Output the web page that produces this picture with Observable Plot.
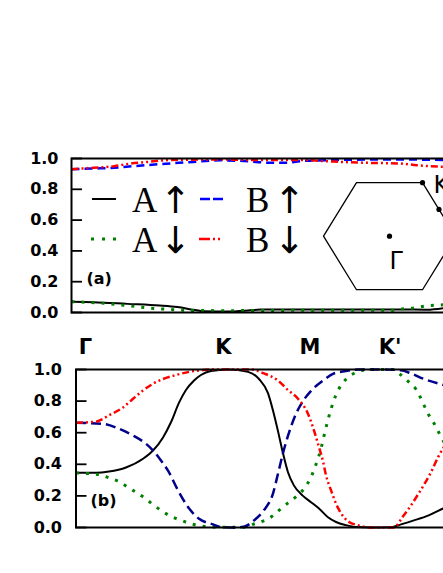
<!DOCTYPE html>
<html><head><meta charset="utf-8">
<script src="https://cdn.jsdelivr.net/npm/d3@7"></script>
<script src="https://cdn.jsdelivr.net/npm/@observablehq/plot@0.6"></script>
<style>
html,body{margin:0;padding:0;background:#fff;overflow:hidden}
#wrap{position:relative;width:443px;height:573px;overflow:hidden;background:#fff}
#wrap svg{position:absolute;overflow:visible;max-width:none !important}
</style></head><body><div id="wrap"></div>
<script>
// ---------- data ----------
const yTicks = [0, 0.2, 0.4, 0.6, 0.8, 1.0];
const kLabels = ["Γ", "K", "M", "K'"];
const kLabelPos = [0.065, 1.003, 1.592, 2.136];

// panel (a)
const aBlackK = [0,0.15,0.38,0.6,0.72,0.83,0.9,1.06,1.2,1.29,1.56,1.9,2.24,2.42,2.53];
const aBlackW = [0.07,0.067,0.056,0.045,0.035,0.018,0.008,0.006,0.013,0.02,0.02,0.02,0.02,0.018,0.028];
const aGreenK = [0,0.22,0.38,0.52,0.67,0.83,1.06,1.56,1.9,2.19,2.26,2.33,2.42,2.53];
const aGreenW = [0.07,0.06,0.045,0.03,0.02,0.013,0.012,0.014,0.014,0.014,0.024,0.03,0.043,0.05];
const aBlueK = [0,0.15,0.29,0.42,0.6,0.83,1.01,1.2,1.33,1.45,1.56,1.78,2.01,2.3,2.53];
const aBlueW = [0.93,0.935,0.94,0.95,0.963,0.978,0.988,0.982,0.973,0.972,0.983,0.99,0.993,0.993,0.99];
const aRedK = [0,0.15,0.29,0.40,0.52,0.63,0.74,1.01,1.29,1.56,1.78,2.01,2.24,2.35,2.53];
const aRedW = [0.93,0.94,0.95,0.967,0.978,0.988,0.992,0.993,0.99,0.99,0.98,0.972,0.967,0.956,0.946];

// panel (b)
const bBlackK = [0,0.136,0.224,0.340,0.456,0.524,0.592,0.646,0.701,0.748,0.803,0.850,0.918,1.034,1.170,1.245,1.306,1.340,1.374,1.408,1.442,1.483,1.544,1.599,1.653,1.714,1.769,1.837,1.905,2.007,2.143,2.211,2.299,2.395,2.497,2.551];
const bBlackW = [0.346,0.346,0.354,0.38,0.435,0.487,0.57,0.666,0.79,0.87,0.93,0.965,0.99,1.0,0.985,0.94,0.85,0.74,0.61,0.47,0.35,0.265,0.2,0.16,0.12,0.065,0.035,0.015,0.003,0.0,0.002,0.02,0.045,0.075,0.12,0.14];
const bBlueK = [0,0.184,0.292,0.388,0.476,0.531,0.578,0.626,0.694,0.762,0.837,0.932,0.986,1.068,1.143,1.211,1.279,1.340,1.374,1.408,1.449,1.497,1.544,1.599,1.680,1.755,1.837,1.918,2.075,2.211,2.279,2.367,2.469,2.551];
const bBlueW = [0.663,0.656,0.625,0.582,0.53,0.48,0.424,0.36,0.235,0.13,0.055,0.02,0.003,0.0,0.005,0.045,0.11,0.215,0.34,0.47,0.60,0.72,0.80,0.865,0.93,0.975,0.99,1.0,1.0,0.995,0.975,0.94,0.91,0.89];
const bRedK = [0,0.136,0.224,0.320,0.388,0.456,0.524,0.592,0.680,0.769,0.850,0.918,1.190,1.279,1.374,1.442,1.510,1.578,1.612,1.646,1.680,1.701,1.735,1.769,1.803,1.857,1.918,1.986,2.163,2.224,2.279,2.327,2.367,2.415,2.463,2.503,2.551];
const bRedW = [0.663,0.67,0.71,0.76,0.815,0.867,0.91,0.94,0.965,0.985,0.995,1.0,1.0,0.975,0.93,0.87,0.815,0.72,0.635,0.53,0.42,0.33,0.235,0.15,0.09,0.035,0.015,0.0,0.0,0.07,0.14,0.21,0.27,0.35,0.445,0.51,0.58];
const bGreenK = [0,0.156,0.224,0.293,0.361,0.422,0.476,0.531,0.592,0.646,0.701,0.782,0.850,0.952,1.156,1.204,1.272,1.340,1.395,1.449,1.497,1.551,1.599,1.633,1.667,1.687,1.714,1.735,1.769,1.803,1.850,1.918,1.993,2.156,2.211,2.265,2.313,2.367,2.401,2.435,2.469,2.497,2.551];
const bGreenW = [0.345,0.335,0.315,0.29,0.25,0.215,0.18,0.14,0.10,0.07,0.05,0.023,0.01,0.002,0.002,0.02,0.04,0.075,0.12,0.16,0.195,0.245,0.32,0.40,0.50,0.58,0.68,0.75,0.84,0.90,0.95,0.985,1.0,1.0,0.965,0.92,0.875,0.775,0.71,0.66,0.60,0.55,0.47];

const legendLetters = ["A", "B", "A", "B"];
const legendArrows = ["↑", "↑", "↓", "↓"];
const bzNames = ["Γ", "K", "M"];

// ---------- drawing ----------
const wrap = document.getElementById("wrap");
const plotW = 441;
const rows = (ks, ws) => ks.map((k, i) => ({k, w: ws[i]}));
const sty = {
  black: {stroke: "#000", strokeWidth: 2, dash: null, cap: "butt"},
  green: {stroke: "#008000", strokeWidth: 3, dash: "3,7", cap: "butt"},
  redDD: {stroke: "#ff0000", strokeWidth: 2.5, dash: "7,3,2,3,2,3", cap: "butt"}
};

function panel(cfg) {
  const marks = [
    ...cfg.lines.map(L => Plot.line(rows(L.k, L.w), {
      x: "k", y: "w", curve: "monotone-x", stroke: L.s.stroke,
      strokeWidth: L.s.strokeWidth, strokeDasharray: L.s.dash, strokeLinecap: L.s.cap
    })),
    Plot.frame({stroke: "#000", strokeWidth: 2}),
    Plot.tickY(yTicks, {y: d => d, stroke: "#000", strokeWidth: 1.8, insetRight: plotW - 11}),
    Plot.axisY(yTicks, {tickSize: 0, tickPadding: cfg.pad, tickFormat: d3.format(".1f"), label: null,
      fontSize: 16, fontWeight: "bold", fill: "#000"}),
    Plot.text([cfg.tag], {text: d => d, frameAnchor: "bottom-left", dx: cfg.tagDx, dy: cfg.tagDy,
      textAnchor: "start", lineAnchor: "middle", fontSize: 16, fontWeight: "bold", fill: "#000"}),
    ...(cfg.extra || [])
  ];
  const svg = Plot.plot({
    width: cfg.marginLeft + plotW + 10,
    height: cfg.marginTop + cfg.plotH + 10,
    marginLeft: cfg.marginLeft, marginRight: 10, marginTop: cfg.marginTop, marginBottom: 10,
    x: {domain: [0, 3], axis: null},
    y: {domain: [0, 1], axis: null},
    style: {fontFamily: "DejaVu Sans", background: "transparent", color: "#000", maxWidth: "none"},
    marks
  });
  svg.style.left = "0px";
  svg.style.top = cfg.top + "px";
  svg.style.maxWidth = "none";
  wrap.appendChild(svg);
}

panel({
  top: 150, marginLeft: 71, marginTop: 8, plotH: 154, pad: 13,
  tag: "(a)", tagDx: 15, tagDy: -34,
  lines: [
    {k: aBlackK, w: aBlackW, s: sty.black},
    {k: aGreenK, w: aGreenW, s: sty.green},
    {k: aBlueK, w: aBlueW, s: {stroke: "#0000ff", strokeWidth: 2.5, dash: "8,5", cap: "butt"}},
    {k: aRedK, w: aRedW, s: sty.redDD}
  ]
});

panel({
  top: 329, marginLeft: 75.5, marginTop: 40, plotH: 158, pad: 14,
  tag: "(b)", tagDx: 14.5, tagDy: -26.5,
  lines: [
    {k: bBlackK, w: bBlackW, s: sty.black},
    {k: bGreenK, w: bGreenW, s: sty.green},
    {k: bBlueK, w: bBlueW, s: {stroke: "#00008b", strokeWidth: 2.5, dash: "10,5", cap: "butt"}},
    {k: bRedK, w: bRedW, s: sty.redDD}
  ],
  extra: [
    Plot.text(kLabels, {x: (d, i) => kLabelPos[i], text: d => d, frameAnchor: "top", dy: -16,
      lineAnchor: "bottom", fontSize: 21, fontWeight: "bold", fill: "#000"})
  ]
});

// Brillouin-zone inset (own scales, geometry from angles)
const hexAngles = [0, 60, 120, 180, 240, 300, 360];
const hex = hexAngles.map(a => ({kx: Math.cos(a * Math.PI / 180), ky: Math.sin(a * Math.PI / 180)}));
const s60 = Math.sin(Math.PI / 3);
const bzPts = [
  {name: bzNames[0], kx: 0, ky: 0},
  {name: bzNames[1], kx: 0.5, ky: s60},
  {name: bzNames[2], kx: 0.75, ky: s60 / 2}
];
const inset = Plot.plot({
  width: 200, height: 160,
  marginLeft: 23, marginRight: 45, marginTop: 23.9, marginBottom: 12.5,
  x: {domain: [-1, 1], axis: null},
  y: {domain: [-1, 1], axis: null},
  style: {fontFamily: "DejaVu Sans", background: "transparent", maxWidth: "none"},
  marks: [
    Plot.line(hex, {x: "kx", y: "ky", stroke: "#000", strokeWidth: 1.3}),
    Plot.dot(bzPts, {x: "kx", y: "ky", r: 2.6, fill: "#000"}),
    Plot.text(bzPts.slice(0, 1), {x: "kx", y: "ky", text: "name", dx: 0, dy: 33, textAnchor: "start",
      lineAnchor: "bottom", fontSize: 24, fill: "#000"}),
    Plot.text(bzPts.slice(1, 2), {x: "kx", y: "ky", text: "name", dx: 11, dy: 10, textAnchor: "start",
      lineAnchor: "bottom", fontSize: 24, fill: "#000"})
  ]
});
inset.style.left = "300px";
inset.style.top = "150px";
inset.style.maxWidth = "none";
wrap.appendChild(inset);

// legend overlay
const leg = d3.select(wrap).append("svg").attr("width", 443).attr("height", 573)
  .style("left", "0px").style("top", "0px");
const legItems = [
  {stroke: "#000", w: 2, dash: null, x1: 92, x2: 116, tx: 132, y: 199},
  {stroke: "#0000ff", w: 2.5, dash: "10,3", x1: 200, x2: 223, tx: 246, y: 199},
  {stroke: "#008000", w: 3, dash: "3,8", x1: 91, x2: 117, tx: 132, y: 239},
  {stroke: "#ff0000", w: 2.5, dash: "11,3,2,3,2,20", x1: 199, x2: 223, tx: 246, y: 239}
];
legItems.forEach((d, i) => {
  leg.append("line").attr("x1", d.x1).attr("x2", d.x2).attr("y1", d.y).attr("y2", d.y)
    .attr("stroke", d.stroke).attr("stroke-width", d.w).attr("stroke-dasharray", d.dash)
    .attr("stroke-linecap", "butt");
  leg.append("text").attr("x", d.tx).attr("y", d.y + 13).text(legendLetters[i])
    .attr("font-family", "Liberation Serif").attr("font-size", 35).attr("fill", "#000");
  leg.append("text").attr("x", d.tx + 28).attr("y", d.y + 14).text(legendArrows[i])
    .attr("font-family", "DejaVu Sans").attr("font-size", 37).attr("fill", "#000");
});
</script></body></html>
